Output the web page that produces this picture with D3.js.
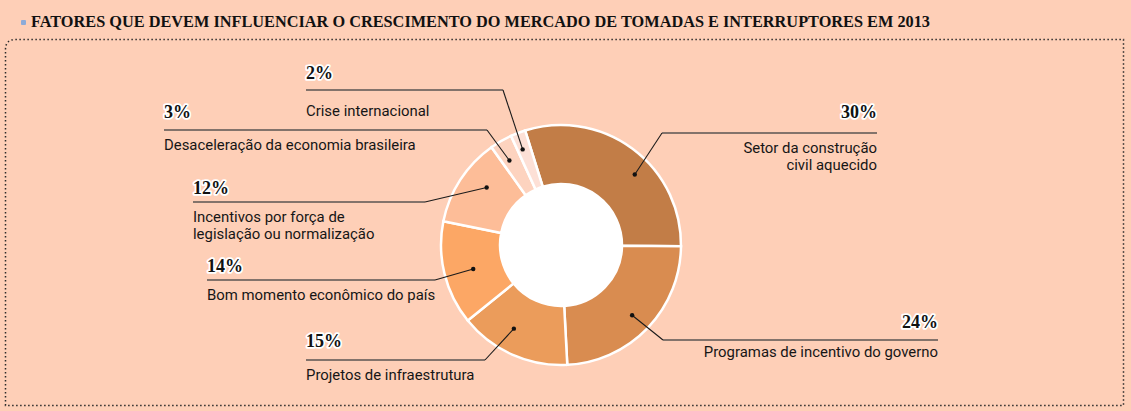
<!DOCTYPE html>
<html><head><meta charset="utf-8">
<script src="https://cdn.jsdelivr.net/npm/d3@7"></script>
<style>
html,body{margin:0;padding:0;background:#fecfb7;}
svg{display:block;}
</style></head>
<body>
<svg id="c" width="1131" height="411"></svg>
<script>
// ---- data ----
const categories = [
  "Setor da construção|civil aquecido",
  "Programas de incentivo do governo",
  "Projetos de infraestrutura",
  "Bom momento econômico do país",
  "Incentivos por força de|legislação ou normalização",
  "Desaceleração da economia brasileira",
  "Crise internacional"
];
const values = [30, 24, 15, 14, 12, 3, 2];
const valueLabels = ["30%", "24%", "15%", "14%", "12%", "3%", "2%"];
const colors = ["#c27d47", "#d98c50", "#eb9c5b", "#fca765", "#fdbd98", "#fdd3bf", "#fde0d6"];
const title = "FATORES QUE DEVEM INFLUENCIAR O CRESCIMENTO DO MERCADO DE TOMADAS E INTERRUPTORES EM 2013";

// ---- layout (positions of label blocks) ----
const labelLayout = [
  {x: 877, y: 133, side: "end",   elbow: 662, frac: 0.59, r: 102, pctDy: -15, txtDy: 20},
  {x: 938, y: 340, side: "end",   elbow: 663, frac: 0.51, r: 100, pctDy: -12, txtDy: 17},
  {x: 306, y: 360, side: "start", elbow: 485, frac: 0.60, r: 96,  pctDy: -13, txtDy: 20},
  {x: 207, y: 280, side: "start", elbow: 435, frac: 0.47, r: 91,  pctDy: -8,  txtDy: 20},
  {x: 193, y: 202, side: "start", elbow: 425, frac: 0.61, r: 94,  pctDy: -8,  txtDy: 20},
  {x: 164, y: 130, side: "start", elbow: 487, frac: 0.37, r: 99,  pctDy: -12, txtDy: 20},
  {x: 306, y: 90,  side: "start", elbow: 503, frac: 0.38, r: 103, pctDy: -11, txtDy: 26}
];

const svg = d3.select("#c");
const W = 1131, H = 411;

svg.append("rect").attr("width", W).attr("height", H).attr("fill", "#fecfb7");

// title
svg.append("rect").attr("x", 21).attr("y", 20).attr("width", 5).attr("height", 5)
  .attr("rx", 1).attr("fill", "#8dabd8");
svg.append("text").attr("x", 31).attr("y", 27)
  .attr("font-family", "'Liberation Serif', 'DejaVu Serif', serif")
  .attr("font-weight", "bold").attr("font-size", 17).attr("fill", "#111")
  .attr("textLength", 899).attr("lengthAdjust", "spacingAndGlyphs")
  .text(title);

// dotted border with rounded top-left corner
const bx0 = 5.5, by0 = 39.5, bx1 = 1123.5, by1 = 405.5, rr = 10;
svg.append("path")
  .attr("d", `M${bx0},${by1} L${bx0},${by0 + rr} Q${bx0},${by0} ${bx0 + rr},${by0} L${bx1},${by0} L${bx1},${by1} Z`)
  .attr("fill", "none").attr("stroke", "#2a2a2a").attr("stroke-width", 1.5)
  .attr("stroke-dasharray", "1.5,2.5");

// donut
const cx = 561, cy = 245, rOuter = 120, rInner = 61;
const start = -17.4 * Math.PI / 180;
const pie = d3.pie().sort(null).value(d => d).startAngle(start).endAngle(start + 2 * Math.PI);
const arcs = pie(values);
const arc = d3.arc().innerRadius(rInner).outerRadius(rOuter);
const g = svg.append("g").attr("transform", `translate(${cx},${cy})`);
g.selectAll("path.slice").data(arcs).enter().append("path")
  .attr("class", "slice").attr("d", arc)
  .attr("fill", (d, i) => colors[i])
  .attr("stroke", "#fff").attr("stroke-width", 2.5).attr("stroke-linejoin", "miter");
g.append("circle").attr("r", rInner).attr("fill", "#fff");

// labels & leaders
arcs.forEach((a, i) => {
  const L = labelLayout[i];
  const ang = a.startAngle + (a.endAngle - a.startAngle) * L.frac;
  const dx = cx + L.r * Math.sin(ang), dy = cy - L.r * Math.cos(ang);
  svg.append("line").attr("x1", L.x).attr("x2", L.elbow).attr("y1", L.y).attr("y2", L.y)
    .attr("stroke", "#5a5452").attr("stroke-width", 1.5);
  svg.append("line").attr("x1", L.elbow).attr("y1", L.y).attr("x2", dx).attr("y2", dy)
    .attr("stroke", "#1a1a1a").attr("stroke-width", 1.1);
  svg.append("circle").attr("cx", dx).attr("cy", dy).attr("r", 2.2).attr("fill", "#111");
  svg.append("text").attr("x", L.x).attr("y", L.y + L.pctDy).attr("text-anchor", L.side)
    .attr("font-family", "'Liberation Serif', 'DejaVu Serif', serif").attr("font-weight", "bold")
    .attr("font-size", 18).attr("fill", "#111")
    .attr("stroke", "#fff").attr("stroke-width", 3.5).attr("paint-order", "stroke")
    .attr("stroke-linejoin", "round")
    .text(valueLabels[i]);
  const lines = categories[i].split("|");
  lines.forEach((ln, j) => {
    svg.append("text").attr("x", L.x).attr("y", L.y + L.txtDy + j * 17).attr("text-anchor", L.side)
      .attr("font-family", "Roboto, 'Noto Sans', sans-serif").attr("font-size", 14.9)
      .attr("fill", "#161616").text(ln);
  });
});
</script>
</body></html>
